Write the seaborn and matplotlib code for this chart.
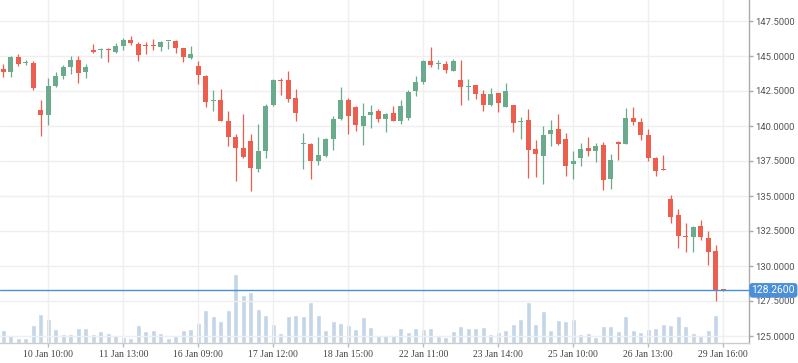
import numpy as np
import pandas as pd
import seaborn as sns
import matplotlib
matplotlib.use("Agg")
import matplotlib.pyplot as plt

# hourly OHLC
opens = [144.10, 143.88, 144.95, 144.50, 144.52, 141.17, 140.81, 142.88, 143.60, 144.24,
         144.74, 143.88, 145.45, 145.45, 145.48, 145.31, 145.74, 146.17, 145.88, 145.74,
         145.74, 145.67, 146.05, 146.10, 145.60, 144.88, 144.31, 143.60, 141.76, 141.88,
         140.38, 139.24, 138.45, 138.95, 136.95, 138.24, 141.52, 143.31, 143.31, 142.02,
         138.74, 138.74, 137.52, 137.88, 139.10, 140.52, 141.88, 141.38, 140.02, 140.81,
         141.10, 140.52, 140.95, 140.38, 140.60, 142.52, 143.17, 144.67, 144.40, 144.45,
         143.95, 143.31, 142.79, 142.95, 142.31, 141.52, 142.38, 141.38, 141.52, 140.26,
         140.45, 138.38, 137.88, 139.45, 139.81, 139.10, 137.31, 137.74, 138.45, 138.24,
         138.67, 136.24, 138.88, 138.74, 140.60, 140.31, 139.38, 137.74, 136.95, 134.79,
         133.64, 132.14, 132.07, 132.86, 132.00, 131.07, 128.29]
highs = [144.45, 145.02, 145.17, 144.74, 144.62, 141.88, 143.45, 143.88, 144.38, 145.02,
         145.02, 144.45, 145.88, 145.60, 145.55, 145.95, 146.31, 146.45, 146.02, 146.02,
         146.24, 146.10, 146.10, 146.17, 145.60, 145.74, 144.67, 143.67, 142.60, 142.67,
         141.10, 139.45, 140.88, 139.45, 140.17, 141.60, 143.38, 143.45, 143.95, 142.67,
         139.52, 138.81, 139.24, 139.17, 140.74, 142.81, 142.02, 141.45, 141.67, 141.52,
         141.24, 140.95, 141.45, 141.88, 142.60, 143.60, 144.74, 145.67, 144.74, 144.67,
         144.81, 144.74, 143.38, 142.95, 142.60, 142.74, 142.38, 143.10, 141.52, 140.67,
         141.24, 139.02, 140.02, 140.45, 140.88, 139.52, 138.24, 138.81, 139.24, 138.81,
         138.88, 138.02, 138.95, 141.31, 141.38, 140.60, 139.81, 137.81, 137.95, 135.07,
         134.07, 133.07, 132.86, 133.29, 132.50, 131.50, 128.30]
lows = [143.52, 143.52, 144.31, 144.33, 142.55, 139.31, 140.10, 142.81, 143.38, 143.74,
        143.10, 143.45, 145.24, 144.88, 144.60, 145.24, 145.45, 145.81, 144.67, 145.17,
        145.45, 145.38, 145.52, 145.24, 144.60, 144.81, 143.02, 141.38, 141.10, 140.38,
        138.60, 136.09, 137.71, 135.38, 136.74, 137.74, 141.45, 142.24, 141.74, 140.38,
        136.95, 136.24, 137.24, 137.81, 138.31, 140.45, 139.45, 139.67, 138.67, 139.88,
        140.31, 139.60, 140.38, 140.17, 140.45, 142.17, 143.02, 144.24, 144.10, 143.81,
        143.95, 141.52, 141.88, 141.95, 141.10, 141.45, 141.02, 141.38, 139.60, 139.10,
        136.31, 136.38, 135.88, 138.60, 138.67, 136.45, 136.24, 137.17, 137.88, 137.45,
        135.45, 135.52, 137.60, 138.74, 140.10, 139.02, 137.52, 136.45, 136.86, 133.10,
        131.29, 131.00, 131.00, 131.86, 130.07, 127.50, 128.22]
closes = [143.88, 144.95, 144.45, 144.57, 142.74, 140.81, 142.88, 143.60, 144.24, 144.74,
          143.81, 144.24, 145.31, 145.50, 145.40, 145.74, 146.17, 145.95, 145.10, 145.69,
          145.69, 146.02, 146.10, 145.60, 144.95, 145.17, 143.67, 141.74, 141.81, 140.38,
          139.24, 138.45, 137.81, 137.02, 138.24, 141.45, 143.31, 143.24, 141.95, 140.95,
          138.81, 137.52, 137.95, 139.10, 140.52, 141.88, 140.74, 140.10, 140.74, 141.02,
          140.52, 140.88, 140.38, 141.45, 142.45, 143.17, 144.67, 144.38, 144.48, 144.02,
          144.67, 142.81, 142.86, 142.31, 141.52, 142.31, 141.67, 142.52, 140.24, 140.36,
          138.31, 138.02, 139.38, 139.74, 138.74, 137.17, 137.52, 138.38, 138.24, 138.60,
          136.17, 137.60, 138.74, 140.60, 140.31, 139.38, 137.74, 136.81, 136.88, 133.52,
          132.14, 132.07, 132.79, 132.07, 131.00, 128.29, 128.26]
volumes = [38, 23, 14, 14, 53, 86, 71, 41, 26, 26, 44, 44, 26, 35, 29, 23, 17, 14, 53, 35,
           38, 29, 14, 20, 38, 41, 59, 98, 80, 65, 98, 206, 143, 152, 101, 83, 56, 29, 80, 83,
           80, 122, 83, 38, 65, 59, 53, 41, 77, 47, 23, 23, 23, 44, 32, 44, 41, 44, 20, 17,
           35, 50, 44, 44, 47, 26, 32, 38, 56, 71, 122, 56, 95, 38, 68, 65, 71, 26, 29, 17,
           50, 50, 35, 80, 38, 32, 41, 44, 56, 53, 80, 50, 29, 20, 38, 83, 2]
tick_pos = [6, 16, 26, 36, 46, 56, 66, 76, 86, 96]
tick_labels = ["10 Jan 10:00", "11 Jan 13:00", "16 Jan 09:00", "17 Jan 12:00", "18 Jan 15:00",
               "22 Jan 11:00", "23 Jan 14:00", "25 Jan 10:00", "26 Jan 13:00", "29 Jan 16:00"]
price_ticks = [125, 127.5, 130, 132.5, 135, 137.5, 140, 142.5, 145, 147.5]
last_price = 128.26

sns.set_theme(style="white")
plt.rcParams['font.family'] = ['Roboto', 'DejaVu Sans']

UP = "#6aab8e"
DOWN = "#ec5f4f"
VOL = "#c4d5e7"
LINE = "#4a8fd8"

df = pd.DataFrame({"open": opens, "high": highs, "low": lows,
                   "close": closes, "volume": volumes})
df["idx"] = np.arange(len(df))
df["color"] = np.where(df["close"] >= df["open"], UP, DOWN)
df["body_lo"] = df[["open", "close"]].min(axis=1)
df["body_h"] = (df["close"] - df["open"]).abs().clip(lower=0.07)

fig = plt.figure(figsize=(7.98, 3.63), dpi=100)
fig.patch.set_facecolor("white")
ax = fig.add_axes([0, 20 / 363, 749 / 798, 343 / 363])
ax2 = ax.twinx()

# volume behind the candles
sns.barplot(data=df, x="idx", y="volume", native_scale=True, color=VOL,
            saturation=1, width=0.66, errorbar=None, ax=ax2)
ax2.set_ylim(0, 1029)
ax2.set_yticks([])
ax2.set_ylabel("")
ax2.set_xlabel("")
for s in ax2.spines.values():
    s.set_visible(False)

ax.set_zorder(ax2.get_zorder() + 1)
ax.patch.set_visible(False)

ax.vlines(df["idx"], df["low"], df["high"], colors=df["color"], lw=0.9, zorder=3)
ax.bar(df["idx"], df["body_h"], bottom=df["body_lo"], width=0.64,
       color=df["color"], linewidth=0, zorder=4)

ax.axhline(last_price, color=LINE, lw=1, zorder=5)
ax.text(1.0035, last_price, f"{last_price:.4f}", transform=ax.get_yaxis_transform(),
        ha="left", va="center", color="white", fontsize=7.5, clip_on=False, zorder=10,
        bbox=dict(boxstyle="round,pad=0.22,rounding_size=0.3", fc=LINE, ec="none"))

ax.set_xlim(-0.44, 99.43)
ax.set_ylim(124.5, 149)
ax.yaxis.tick_right()
ax.set_yticks(price_ticks)
ax.set_yticklabels([f"{v:.4f}" for v in price_ticks])
ax.set_xticks(tick_pos)
ax.set_xticklabels(tick_labels, fontfamily="Liberation Serif")
ax.tick_params(axis="y", which="both", right=True, left=False, length=3, width=1,
               pad=1.5, colors="#aaaaaa", labelcolor="#555555", labelsize=6.8)
ax.tick_params(axis="x", bottom=True, length=3, width=1, pad=2,
               colors="#bbbbbb", labelcolor="#444444", labelsize=7)
ax.grid(True, color="#efefef", lw=1)
ax.set_axisbelow(True)
ax.set_xlabel("")
ax.set_ylabel("")

for side in ["top", "left"]:
    ax.spines[side].set_visible(False)
ax.spines["right"].set_color("#aaaaaa")
ax.spines["right"].set_linewidth(1)
ax.spines["bottom"].set_color("#cccccc")
ax.spines["bottom"].set_linewidth(1)

fig.savefig("out.png", dpi=100, facecolor="white")
